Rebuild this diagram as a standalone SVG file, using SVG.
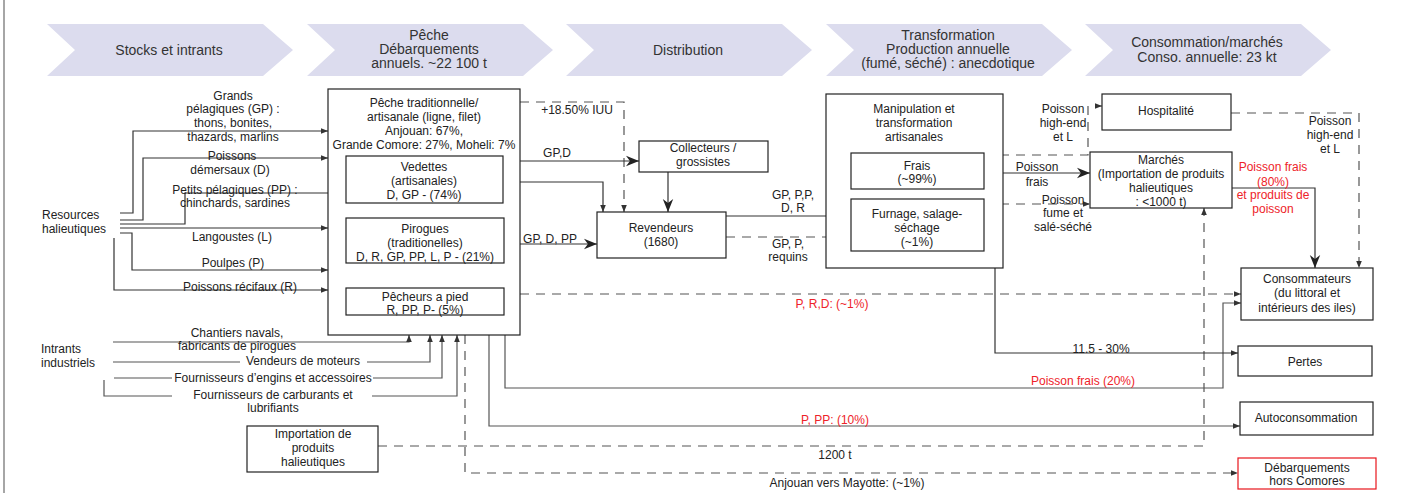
<svg xmlns="http://www.w3.org/2000/svg" width="1414" height="493" viewBox="0 0 1414 493">
<defs>
<style>
text{font-family:"Liberation Sans",Arial,sans-serif;font-size:12px;fill:#222;text-anchor:middle}
.h{font-size:14px;fill:#333}
.l{text-anchor:start}
.red{fill:#ee2229}
.box{fill:#fff;stroke:#222;stroke-width:1.2}
.chev{fill:#dcdcee;stroke:none}
.s{fill:none;stroke:#333;stroke-width:1.2}
.g{fill:none;stroke:#555;stroke-width:1.2}
.d{fill:none;stroke:#555;stroke-width:1.2;stroke-dasharray:9 7}
</style>
<marker id="a" viewBox="0 0 10 10" refX="10" refY="5" markerWidth="7" markerHeight="7" orient="auto" markerUnits="userSpaceOnUse"><path d="M0,1 L10,5 L0,9 Z" fill="#333"/></marker>
<marker id="b" viewBox="0 0 10 10" refX="10" refY="5" markerWidth="13" markerHeight="13" orient="auto" markerUnits="userSpaceOnUse"><path d="M0,1 L10,5 L0,9 L3,5 Z" fill="#222"/></marker>
</defs>
<rect width="1414" height="493" fill="#fff"/>
<line x1="4" y1="0" x2="4" y2="493" stroke="#888" stroke-width="1.5"/>

<g id="header">
<polygon class="chev" points="47,24 263,24 293,50 263,76 47,76 75,50"/>
<polygon class="chev" points="307,24 523,24 553,50 523,76 307,76 335,50"/>
<polygon class="chev" points="566,24 782,24 812,50 782,76 566,76 594,50"/>
<polygon class="chev" points="826,24 1042,24 1072,50 1042,76 826,76 854,50"/>
<polygon class="chev" points="1085,24 1301,24 1331,50 1301,76 1085,76 1113,50"/>
<text class="h" x="169" y="55">Stocks et intrants</text>
<text class="h" x="429" y="40">Pêche</text>
<text class="h" x="429" y="54">Débarquements</text>
<text class="h" x="429" y="68">annuels. ~22 100 t</text>
<text class="h" x="688" y="55">Distribution</text>
<text class="h" x="948" y="40">Transformation</text>
<text class="h" x="948" y="54">Production annuelle</text>
<text class="h" x="948" y="68">(fumé, séché) : anecdotique</text>
<text class="h" x="1207" y="47">Consommation/marchés</text>
<text class="h" x="1207" y="62">Conso. annuelle: 23 kt</text>
</g>

<g id="connectors">
<path class="s" d="M120,213 H133 V131 H328" marker-end="url(#a)"/>
<path class="s" d="M120,220 H143 V158 H328" marker-end="url(#a)"/>
<path class="s" d="M120,224 H185 V193 H328"/>
<path class="s" d="M120,228 H328" marker-end="url(#a)"/>
<path class="s" d="M120,233 H132 V270 H328" marker-end="url(#a)"/>
<path class="s" d="M114,238 V290 H328" marker-end="url(#a)"/>
<path class="g" d="M113,342 H409 V335" marker-end="url(#a)"/>
<path class="g" d="M113,362 H240 M367,362 H430 V335" marker-end="url(#a)"/>
<path class="g" d="M114,378 H172 M373,378 H442 V335" marker-end="url(#a)"/>
<path class="g" d="M104,380 V396 H172 M372,396 H457 V335" marker-end="url(#a)"/>
<path class="d" d="M378,446 H1204 V208" marker-end="url(#a)"/>
<path class="d" d="M465,335 V473 H1238" marker-end="url(#a)"/>
<path class="g" d="M505,335 V388 H1223 V303 H1241" marker-end="url(#a)"/>
<path class="g" d="M489,335 V426 H1240" marker-end="url(#a)"/>
<path class="d" d="M504,294 H1241" marker-end="url(#a)"/>
<path class="d" d="M520,102 H624 V212" marker-end="url(#a)"/>
<path class="s" d="M503,161 H639" marker-end="url(#b)"/>
<path class="s" d="M503,182 H603 V212" marker-end="url(#a)"/>
<path class="s" d="M504,244 H597" marker-end="url(#b)"/>
<path class="s" d="M668,172 V212" marker-end="url(#b)"/>
<path class="s" d="M726,216 H836 V173 H851" marker-end="url(#b)"/>
<path class="d" d="M726,237 H851" marker-end="url(#a)"/>
<path class="s" d="M995,268 V353 H1238" marker-end="url(#a)"/>
<path class="s" d="M984,173 H1090" marker-end="url(#b)"/>
<path class="d" d="M984,155 H1088 V106 H1102" marker-end="url(#a)"/>
<path class="d" d="M984,204 H1090" marker-end="url(#a)"/>
<path class="d" d="M1231,113 H1359 V268" marker-end="url(#a)"/>
<path class="s" d="M1232,188 H1315 V268" marker-end="url(#b)"/>
</g>

<g id="labels">
<text x="233" y="100">Grands</text>
<text x="233" y="113">pélagiques (GP) :</text>
<text x="233" y="127">thons, bonites,</text>
<text x="233" y="141">thazards, marlins</text>
<text x="232" y="160">Poissons</text>
<text x="230" y="174">démersaux (D)</text>
<text x="235" y="194">Petits pélagiques (PP) :</text>
<text x="235" y="207">chinchards, sardines</text>
<text x="232" y="241">Langoustes (L)</text>
<text x="233" y="267">Poulpes (P)</text>
<text x="240" y="291">Poissons récifaux (R)</text>
<text class="l" x="42" y="219">Resources</text>
<text class="l" x="42" y="233">halieutiques</text>
<text class="l" x="41" y="353">Intrants</text>
<text class="l" x="41" y="367">industriels</text>
<text x="237" y="337">Chantiers navals,</text>
<text x="237" y="350">fabricants de pirogues</text>
<text x="303" y="365">Vendeurs de moteurs</text>
<text x="273" y="382">Fournisseurs d’engins et accessoires</text>
<text x="273" y="399">Fournisseurs de carburants et</text>
<text x="273" y="412">lubrifiants</text>
<text x="577" y="114">+18.50% IUU</text>
<text x="557" y="157">GP,D</text>
<text x="550" y="243">GP, D, PP</text>
<text x="793" y="199">GP, P,P,</text>
<text x="793" y="212">D, R</text>
<text x="788" y="248">GP, P,</text>
<text x="788" y="261">requins</text>
<text x="1037" y="171">Poisson</text>
<text x="1037" y="186">frais</text>
<text x="1063" y="113">Poisson</text>
<text x="1063" y="127">high-end</text>
<text x="1063" y="141">et L</text>
<text x="1063" y="204">Poisson</text>
<text x="1063" y="217">fume et</text>
<text x="1063" y="231">salé-séché</text>
<text class="red" x="1273" y="171">Poisson frais</text>
<text class="red" x="1273" y="186">(80%)</text>
<text class="red" x="1273" y="199">et produits de</text>
<text class="red" x="1273" y="213">poisson</text>
<text x="1330" y="125">Poisson</text>
<text x="1330" y="139">high-end</text>
<text x="1330" y="153">et L</text>
<text class="red" x="832" y="308">P, R,D: (~1%)</text>
<text x="1101" y="353">11.5 - 30%</text>
<text class="red" x="1083" y="385">Poisson frais (20%)</text>
<text class="red" x="835" y="424">P, PP: (10%)</text>
<text x="835" y="459">1200 t</text>
<text x="847" y="487">Anjouan vers Mayotte: (~1%)</text>
</g>

<g id="peche">
<rect class="box" x="328" y="89" width="192" height="246"/>
<text x="424" y="107">Pêche traditionnelle/</text>
<text x="424" y="121">artisanale (ligne, filet)</text>
<text x="424" y="135">Anjouan: 67%,</text>
<text x="424" y="149">Grande Comore: 27%, Moheli: 7%</text>
</g>
<g id="vedettes">
<rect class="box" x="346" y="156" width="157" height="47"/>
<text x="424" y="171">Vedettes</text>
<text x="424" y="185">(artisanales)</text>
<text x="424" y="199">D, GP - (74%)</text>
</g>
<g id="pirogues">
<rect class="box" x="346" y="218" width="158" height="45"/>
<text x="425" y="233">Pirogues</text>
<text x="425" y="247">(traditionelles)</text>
<text x="425" y="261">D, R, GP, PP, L, P - (21%)</text>
</g>
<g id="pied">
<rect class="box" x="346" y="288" width="158" height="27"/>
<text x="425" y="301">Pêcheurs a pied</text>
<text x="425" y="314">R, PP, P- (5%)</text>
</g>
<g id="import">
<rect class="box" x="247" y="426" width="131" height="46"/>
<text x="313" y="438">Importation de</text>
<text x="313" y="452">produits</text>
<text x="313" y="466">halieutiques</text>
</g>
<g id="collecteurs">
<rect class="box" x="639" y="141" width="129" height="31"/>
<text x="703" y="152">Collecteurs /</text>
<text x="703" y="166">grossistes</text>
</g>
<g id="revendeurs">
<rect class="box" x="597" y="212" width="129" height="46"/>
<text x="661" y="232">Revendeurs</text>
<text x="661" y="246">(1680)</text>
</g>
<g id="transformation">
<rect class="box" x="826" y="94" width="177" height="174"/>
<text x="914" y="113">Manipulation et</text>
<text x="914" y="127">transformation</text>
<text x="914" y="141">artisanales</text>
</g>
<g id="frais">
<rect class="box" x="851" y="153" width="133" height="36"/>
<text x="917" y="170">Frais</text>
<text x="917" y="183">(~99%)</text>
</g>
<g id="furnage">
<rect class="box" x="851" y="199" width="133" height="52"/>
<text x="917" y="218">Furnage, salage-</text>
<text x="917" y="232">séchage</text>
<text x="917" y="246">(~1%)</text>
</g>
<g id="hospitalite">
<rect class="box" x="1102" y="94" width="129" height="36"/>
<text x="1166" y="115">Hospitalité</text>
</g>
<g id="marches">
<rect class="box" x="1090" y="152" width="142" height="56"/>
<text x="1161" y="164">Marchés</text>
<text x="1161" y="178">(Importation de produits</text>
<text x="1161" y="192">halieutiques</text>
<text x="1161" y="206">: &lt;1000 t)</text>
</g>
<g id="consommateurs">
<rect class="box" x="1241" y="268" width="132" height="52"/>
<text x="1307" y="283">Consommateurs</text>
<text x="1307" y="297">(du littoral et</text>
<text x="1307" y="312">intérieurs des iles)</text>
</g>
<g id="pertes">
<rect class="box" x="1238" y="346" width="134" height="30"/>
<text x="1305" y="366">Pertes</text>
</g>
<g id="autoconsommation">
<rect class="box" x="1240" y="402" width="133" height="33"/>
<text x="1306" y="422">Autoconsommation</text>
</g>
<g id="hors">
<rect class="box" x="1238" y="458" width="138" height="31" style="stroke:#e8141c"/>
<text x="1307" y="472">Débarquements</text>
<text x="1307" y="485">hors Comores</text>
</g>
</svg>
